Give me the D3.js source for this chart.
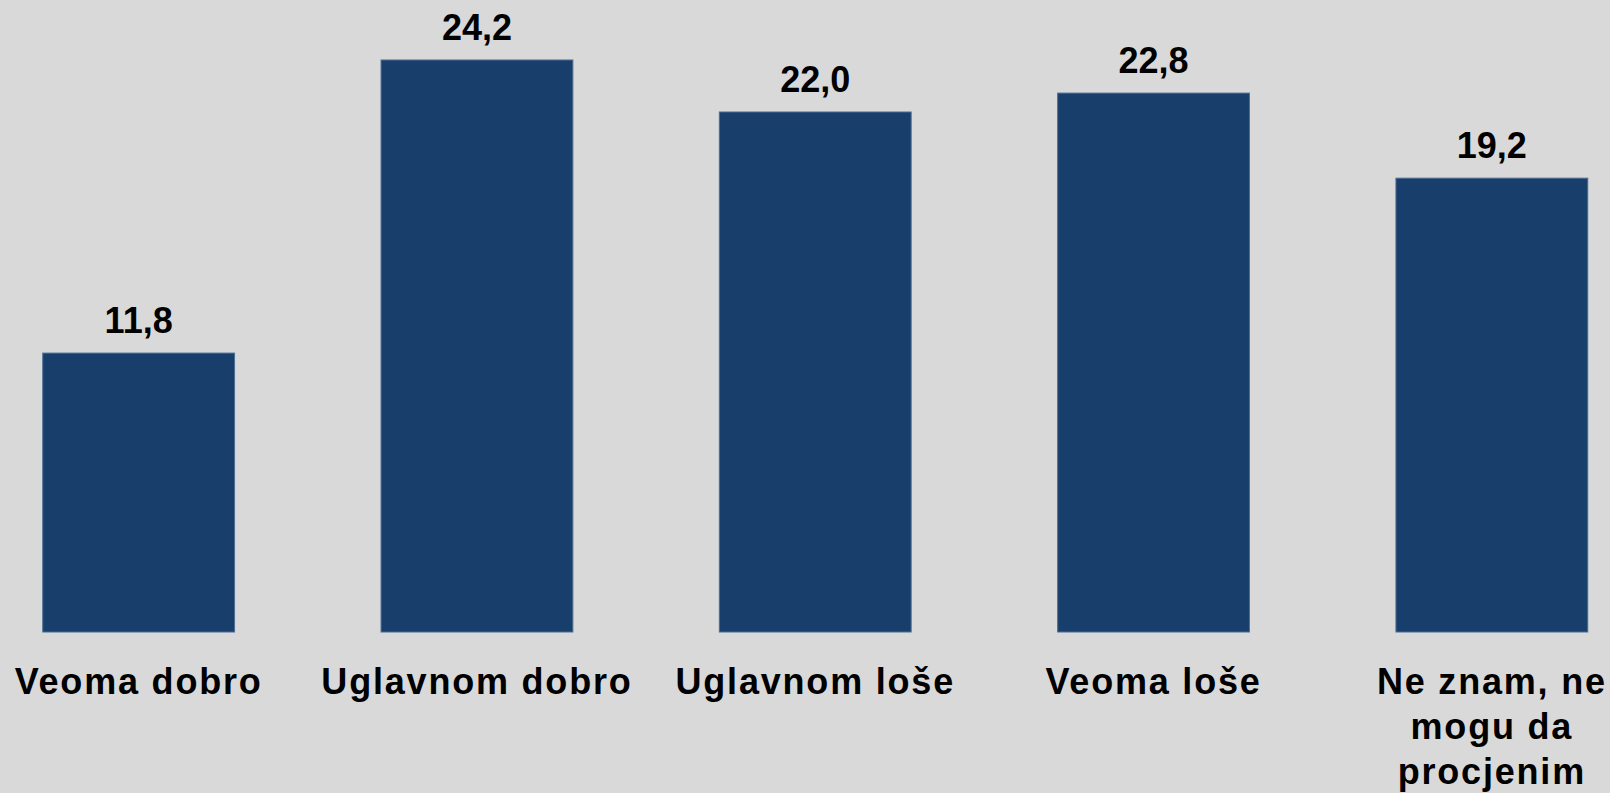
<!DOCTYPE html>
<html>
<head>
<meta charset="utf-8">
<script src="https://cdn.jsdelivr.net/npm/d3@7"></script>
<style>
  html, body { margin: 0; padding: 0; background: #d9d9d9; overflow: hidden; }
  svg { display: block; }
  .value { font-family: "Liberation Sans", Arial, sans-serif; font-weight: bold; font-size: 36px; fill: #000; }
  .cat { font-family: "Liberation Sans", Arial, sans-serif; font-weight: bold; font-size: 36px; fill: #000; letter-spacing: 1.8px; }
</style>
</head>
<body>
<script>
var categories = ["Veoma dobro", "Uglavnom dobro", "Uglavnom loše", "Veoma loše", "Ne znam, ne mogu da procjenim"];
var labelLines = [["Veoma dobro"], ["Uglavnom dobro"], ["Uglavnom loše"], ["Veoma loše"], ["Ne znam, ne", "mogu da", "procjenim"]];
var values = [11.8, 24.2, 22.0, 22.8, 19.2];

var width = 1610, height = 793;

var svg = d3.select("body").append("svg")
    .attr("width", width)
    .attr("height", height);

svg.append("rect")
    .attr("width", width)
    .attr("height", height)
    .attr("fill", "#d9d9d9");

// step ~338px, bars ~192px wide
var x = d3.scaleBand()
    .domain(categories)
    .range([-30.5, 1661])
    .paddingInner(0.433)
    .paddingOuter(0.2165);

var y = d3.scaleLinear()
    .domain([0, 24.2])
    .range([632, 60]);

var fmt = function(v) { return d3.format(".1f")(v).replace(".", ","); };

svg.append("g")
  .selectAll("rect")
  .data(values)
  .enter().append("rect")
    .attr("x", (d, i) => x(categories[i]))
    .attr("y", d => y(d))
    .attr("width", x.bandwidth())
    .attr("height", d => y(0) - y(d))
    .attr("fill", "#183f6b")
    .attr("stroke", "#4d6d93")
    .attr("stroke-width", 1);

svg.append("g")
  .selectAll("text")
  .data(values)
  .enter().append("text")
    .attr("class", "value")
    .attr("x", (d, i) => x(categories[i]) + x.bandwidth() / 2)
    .attr("y", d => y(d) - 20)
    .attr("text-anchor", "middle")
    .text(d => fmt(d));

var cats = svg.append("g")
  .selectAll("text")
  .data(categories)
  .enter().append("text")
    .attr("class", "cat")
    .attr("text-anchor", "middle")
    .attr("x", d => x(d) + x.bandwidth() / 2)
    .attr("y", 694);

cats.selectAll("tspan")
  .data((d, i) => labelLines[i])
  .enter().append("tspan")
    .attr("x", function() { return d3.select(this.parentNode).attr("x"); })
    .attr("dy", (d, j) => j === 0 ? 0 : 45)
    .text(d => d);
</script>
</body>
</html>
